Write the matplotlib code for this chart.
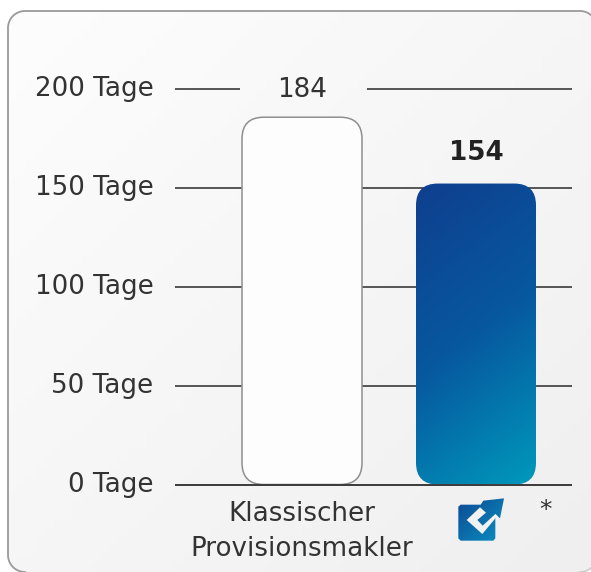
#!/usr/bin/env python3
"""Days-to-sale comparison chart: classic broker vs. logo bar."""

import matplotlib

matplotlib.use("Agg")
import matplotlib.pyplot as plt
import numpy as np
from matplotlib.colors import LinearSegmentedColormap
from matplotlib.patches import FancyBboxPatch, Polygon
from matplotlib.transforms import ScaledTranslation

# Data
categories = ["Klassischer\nProvisionsmakler", ""]
bar_heights = [185.5, 152]  # drawn heights differ a little from the printed labels
bar_labels = ["184", "154"]
tick_values = [0, 50, 100, 150, 200]
tick_labels = ["0 Tage", "50 Tage", "100 Tage", "150 Tage", "200 Tage"]

W, H = 591, 572
TEXT = "#333333"
LINE = "#3a3a3a"
FONT_SIZE = 18.8

fig = plt.figure(figsize=(W / 100, H / 100), dpi=100, facecolor="white")

# Background layer in pixel coordinates: panel and logo
bg = fig.add_axes([0, 0, 1, 1])
bg.set_xlim(0, W)
bg.set_ylim(H, 0)
bg.axis("off")

# Panel runs off the right and bottom edges of the picture
panel = FancyBboxPatch(
    (8, 11), 589, 561,
    boxstyle="round,pad=0,rounding_size=17",
    facecolor="none", edgecolor="none", zorder=1,
)
bg.add_patch(panel)
xx, yy = np.meshgrid(np.linspace(0, 1, 64), np.linspace(0, 1, 64))
panel_img = bg.imshow(
    (xx + yy) / 2,
    extent=(8, 597, 572, 11),
    cmap=LinearSegmentedColormap.from_list("panel", ["#fdfdfd", "#efefef"]),
    vmin=0, vmax=1, aspect="auto", zorder=1,
)
panel_img.set_clip_path(panel)


def corner(cx, cy, start, end, r=17):
    angles = np.radians(np.linspace(start, end, 24))
    return cx + r * np.cos(angles), cy + r * np.sin(angles)


# Panel outline: left and top edges plus the corners, bottom edge fades out
tl_x, tl_y = corner(25, 28, 180, 270)
tr_x, tr_y = corner(580, 28, 270, 320)
bl_x, bl_y = corner(25, 555, 180, 90)
br_x, br_y = corner(580, 555, 90, 40)
bg.plot(
    np.r_[bl_x[::-1], tl_x, tr_x], np.r_[bl_y[::-1], tl_y, tr_y],
    color="#9a9a9a", linewidth=1.3, zorder=3,
)
bg.plot(br_x, br_y, color="#cccccc", linewidth=1.2, zorder=3)

logo_zoom = [
    (25, 50), (32, 44), (92, 44), (100, 32), (162, 25), (150, 85), (136, 72),
    (136, 145), (130, 152), (32, 152), (25, 145),
]
chevron_zoom = [
    (50, 90), (90, 52), (108, 68), (82, 90), (98, 107),
    (136, 72), (142, 78), (97, 132),
]


def to_px(points):
    return [(450 + x / 3, 490 + y / 3) for x, y in points]


logo = Polygon(to_px(logo_zoom), closed=True, facecolor="none", edgecolor="none", zorder=4)
bg.add_patch(logo)
logo_img = bg.imshow(
    (xx + yy) / 2,
    extent=(458, 504, 541, 498),
    cmap=LinearSegmentedColormap.from_list("logo", ["#0d4a94", "#0a8fc0"]),
    aspect="auto", zorder=4,
)
logo_img.set_clip_path(logo)
bg.add_patch(Polygon(to_px(chevron_zoom), closed=True, facecolor="#f2f2f2", edgecolor="none", zorder=5))
bg.text(546, 510, "*", fontsize=18, color=TEXT, ha="center", va="center", zorder=5)
bg.set_xlim(0, W)
bg.set_ylim(H, 0)

# Chart layer: y 0 at 484.5 px, y 200 at 88.5 px; bars 174 px apart
ax_left, ax_right, ax_top, ax_bottom = 175, 572, 88.5, 484.5
ax = fig.add_axes([
    ax_left / W, 1 - ax_bottom / H,
    (ax_right - ax_left) / W, (ax_bottom - ax_top) / H,
])
ax.patch.set_alpha(0.0)
ax.set_ylim(0, 200)
ax.set_xlim(-127 / 174, 270 / 174)
x_pos = np.arange(len(categories))
bar_width = 120 / 174
aspect = (200 / 396) / (1 / 174)  # data-y per px over data-x per px

# Gridlines; the 200 line leaves a gap around the first label
for value in tick_values[1:-1]:
    ax.hlines(value, *ax.get_xlim(), color=LINE, linewidth=1.2, zorder=1)
ax.hlines(200, -127 / 174, -62 / 174, color=LINE, linewidth=1.2, zorder=1, clip_on=False)
ax.hlines(200, 65 / 174, 270 / 174, color=LINE, linewidth=1.2, zorder=1, clip_on=False)

# White bar
white_bar = FancyBboxPatch(
    (x_pos[0] - bar_width / 2, 0), bar_width, bar_heights[0],
    boxstyle="round,pad=0,rounding_size=0.125", mutation_aspect=aspect,
    facecolor="#fdfdfd", edgecolor="#8f8f8f", linewidth=1.1, zorder=2,
)
ax.add_patch(white_bar)

# Gradient bar: dark at the top, teal at the bottom right
blue_bar = FancyBboxPatch(
    (x_pos[1] - bar_width / 2, 0), bar_width, bar_heights[1],
    boxstyle="round,pad=0,rounding_size=0.125", mutation_aspect=aspect,
    facecolor="none", edgecolor="none", zorder=2,
)
ax.add_patch(blue_bar)
gradient = ax.imshow(
    (yy + 0.3 * xx) / 1.3,
    extent=(x_pos[1] - bar_width / 2, x_pos[1] + bar_width / 2, 0, bar_heights[1]),
    cmap=LinearSegmentedColormap.from_list("bar", ["#0f3f8f", "#07589f", "#0098bb"]),
    origin="upper", aspect="auto", zorder=2,
)
gradient.set_clip_path(blue_bar)
ax.set_xlim(-127 / 174, 270 / 174)
ax.set_ylim(0, 200)

# Baseline above the bars
ax.hlines(0, *ax.get_xlim(), color=LINE, linewidth=1.4, zorder=3, clip_on=False)

# Value labels
ax.text(x_pos[0], 199, bar_labels[0], fontsize=FONT_SIZE, color=TEXT, ha="center", va="center")
ax.text(x_pos[1], 167.5, bar_labels[1], fontsize=FONT_SIZE, fontweight="bold", color="#222222", ha="center", va="center")

# Axis labels
ax.set_yticks(tick_values)
ax.set_yticklabels(tick_labels, fontsize=FONT_SIZE, color=TEXT)
ax.set_xticks(x_pos)
ax.set_xticklabels(categories, fontsize=FONT_SIZE, color=TEXT, linespacing=1.42)
ax.tick_params(axis="y", length=0, pad=15.5)
ax.tick_params(axis="x", length=0, pad=12)
for spine in ax.spines.values():
    spine.set_visible(False)

# Tick labels sit a little above their lines in the reference
lift = ScaledTranslation(0, 2 / 72, fig.dpi_scale_trans)
for tick in ax.get_yticklabels():
    tick.set_transform(tick.get_transform() + lift)

fig.savefig("out.png", dpi=100, facecolor="white")
